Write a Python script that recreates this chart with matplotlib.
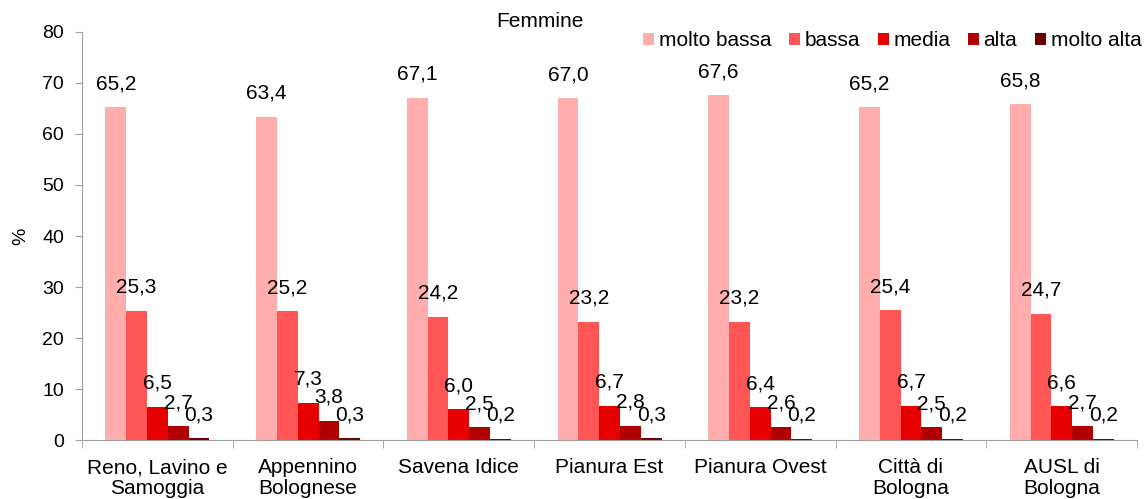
import numpy as np
import matplotlib.pyplot as plt
from matplotlib.ticker import FixedLocator

plt.rcParams['font.family'] = ['Liberation Sans', 'DejaVu Sans']

areas = ['Reno, Lavino e\nSamoggia', 'Appennino\nBolognese', 'Savena Idice', 'Pianura Est',
         'Pianura Ovest', 'Città di\nBologna', 'AUSL di\nBologna']
levels = ['molto bassa', 'bassa', 'media', 'alta', 'molto alta']

molto_bassa = [65.2, 63.4, 67.1, 67.0, 67.6, 65.2, 65.8]
bassa = [25.3, 25.2, 24.2, 23.2, 23.2, 25.4, 24.7]
media = [6.5, 7.3, 6.0, 6.7, 6.4, 6.7, 6.6]
alta = [2.7, 3.8, 2.5, 2.8, 2.6, 2.5, 2.7]
molto_alta = [0.3, 0.3, 0.2, 0.3, 0.2, 0.2, 0.2]

series = [molto_bassa, bassa, media, alta, molto_alta]
colors = ['#FFADAD', '#FF5555', '#E60000', '#B00000', '#6B0000']

fig = plt.figure(figsize=(11.46, 4.99), dpi=100)
ax = fig.add_axes([0.0716, 0.1182, 0.9206, 0.8177])

x = np.arange(len(areas))
w = 0.138
for i, (vals, col, lab) in enumerate(zip(series, colors, levels)):
    pos = x + (i - 2) * w
    ax.bar(pos, vals, width=w, color=col, label=lab, zorder=2)
    # etichette con la virgola decimale
    for p, v in zip(pos, vals):
        ax.annotate(f'{v:.1f}'.replace('.', ','), (p, v), xytext=(0, 17),
                    textcoords='offset points', ha='center', va='center', fontsize=15)

ax.set_xlim(-0.5, len(areas) - 0.5)
ax.set_ylim(0, 80)
ax.set_yticks(range(0, 81, 10))
ax.set_xticks(x)
ax.set_xticklabels(areas, fontsize=15, linespacing=1.15)
ax.xaxis.set_minor_locator(FixedLocator(np.arange(-0.5, len(areas), 1.0)))
ax.tick_params(axis='x', which='major', length=0, pad=13)
ax.tick_params(axis='x', which='minor', length=6, color='#A0A0A0', direction='out')
ax.tick_params(axis='y', length=5, color='#A0A0A0', labelsize=14, pad=8)
for s in ['top', 'right']:
    ax.spines[s].set_visible(False)
for s in ['left', 'bottom']:
    ax.spines[s].set_color('#A0A0A0')
ax.set_ylabel('%', fontsize=14, labelpad=9)

fig.text(0.471, 0.957, 'Femmine', ha='center', va='center', fontsize=15)
fig.legend(loc='center right', bbox_to_anchor=(0.996, 0.918), ncol=5, frameon=False,
           fontsize=15, handlelength=0.55, handleheight=0.55, handletextpad=0.2,
           columnspacing=0.85, borderaxespad=0, borderpad=0)

fig.savefig('out.png', dpi=100)
